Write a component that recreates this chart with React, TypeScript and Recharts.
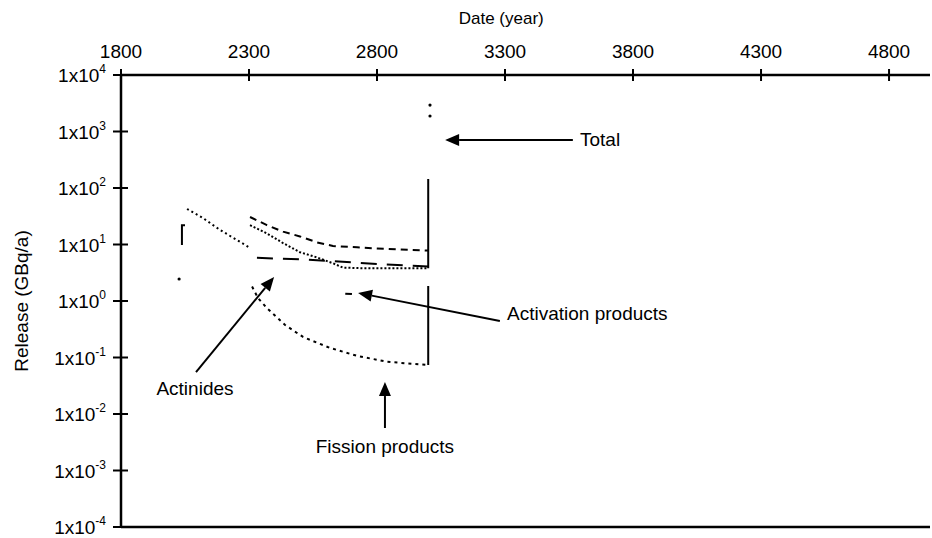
import React from 'react';
import { ComposedChart, Line, XAxis, YAxis, ReferenceLine, ReferenceDot } from 'recharts';

const FONT = '"Liberation Sans", Arial, sans-serif';

const xTicks = [1800, 2300, 2800, 3300, 3800, 4300, 4800];
const yTicks = [1e-4, 1e-3, 1e-2, 1e-1, 1e0, 1e1, 1e2, 1e3, 1e4];
const yExponents = ['-4', '-3', '-2', '-1', '0', '1', '2', '3', '4'];

// Early dotted curve
const earlyYears = [2058, 2120, 2187, 2253, 2304];
const earlyValues = [42.5, 29.4, 18.1, 12.0, 8.7];

// Actinides (long dashes)
const actinideYears = [2331, 2430, 2527, 2650, 2812, 3000];
const actinideValues = [5.8, 5.6, 5.4, 5.0, 4.5, 4.1];

// Upper dashed curve
const upperYears = [2304, 2370, 2433, 2499, 2566, 2628, 2722, 2800, 2878, 2980, 3000];
const upperValues = [30.7, 22, 16.9, 13.9, 10.9, 9.4, 8.9, 8.5, 8.2, 7.9, 7.8];

// Lower dotted curve
const lowerYears = [2304, 2370, 2433, 2499, 2566, 2628, 2667, 2750, 2850, 3000];
const lowerValues = [22, 15.7, 10.6, 7.3, 5.9, 4.65, 3.9, 3.8, 3.8, 3.8];

// Fission products
const fissionYears = [2312, 2335, 2370, 2441, 2511, 2616, 2722, 2839, 2995];
const fissionValues = [1.8, 1.13, 0.75, 0.376, 0.231, 0.148, 0.107, 0.084, 0.074];

// Activation products fragment
const activationYears = [2676, 2702];
const activationValues = [1.35, 1.33];

// Vertical drop at year 3000
const dropYears = [3000, 3000, 3000, 3000, 3000];
const dropValues: (number | null)[] = [144, 3.8, null, 1.84, 0.074];

// Small bracket
const bracketYears = [2050, 2038, 2038];
const bracketValues = [22, 22, 9.8];

// Isolated points
const pointYears = [2027, 3007, 3007];
const pointValues = [2.45, 2940, 1880];

// Annotations
const annotationTexts = ['Total', 'Activation products', 'Fission products', 'Actinides'];
const arrowTailYears = [3565, 3280, 2831, 2093];
const arrowTailValues = [708, 0.443, 0.00565, 0.0553];
const arrowTipYears = [3066, 2726, 2831, 2398];
const arrowTipValues = [708, 1.39, 0.0368, 2.66];
const textYears = [3593, 3308, 2831, 2089];
const textValues = [708, 0.6, 0.0027, 0.0277];
const textAnchors = ['start', 'start', 'middle', 'middle'];

const zip = (xs: number[], ys: (number | null)[]) => xs.map((year, i) => ({ year, value: ys[i] }));

const XTick = (props: any) => {
  const { x, y, payload } = props;
  return (
    <g>
      <line x1={x} y1={y - 6} x2={x} y2={y + 6} stroke="#000" strokeWidth={2} />
      <text x={x} y={y - 24} textAnchor="middle" dominantBaseline="central" fontFamily={FONT} fontSize={19} fill="#000">
        {payload.value}
      </text>
    </g>
  );
};

const YTick = (props: any) => {
  const { x, y, payload } = props;
  const idx = yTicks.findIndex((t) => Math.abs(Math.log10(t) - Math.log10(payload.value)) < 1e-6);
  const exp = yExponents[idx] ?? '';
  return (
    <g>
      <line x1={x - 8} y1={y} x2={x + 7} y2={y} stroke="#000" strokeWidth={2} />
      <text x={x - 15} y={y + 7} textAnchor="end" fontFamily={FONT} fontSize={19} fill="#000">
        <tspan>1x10</tspan>
        <tspan fontSize={12} dy={-9}>{exp}</tspan>
      </text>
    </g>
  );
};

const arrowShape = (props: any) => {
  const { x1, y1, x2, y2 } = props;
  const dx = x2 - x1;
  const dy = y2 - y1;
  const len = Math.sqrt(dx * dx + dy * dy) || 1;
  const ux = dx / len;
  const uy = dy / len;
  const head = 14;
  const half = 6;
  const bx = x2 - ux * head;
  const by = y2 - uy * head;
  const pts = `${x2},${y2} ${bx - uy * half},${by + ux * half} ${bx + uy * half},${by - ux * half}`;
  return (
    <g>
      <line x1={x1} y1={y1} x2={bx} y2={by} stroke="#000" strokeWidth={2} />
      <polygon points={pts} fill="#000" />
    </g>
  );
};

const lineCommon = {
  type: 'linear' as const,
  dataKey: 'value',
  stroke: '#000',
  strokeWidth: 2,
  dot: false,
  activeDot: false,
  isAnimationActive: false,
  connectNulls: false,
};

export default function App() {
  return (
    <div style={{ position: 'absolute', left: 0, top: 0, background: '#fff' }}>
      <ComposedChart width={932} height={538} margin={{ top: 0, right: 2, bottom: 11, left: 0 }}>
        <XAxis
          dataKey="year"
          type="number"
          orientation="top"
          domain={[1800, 4960]}
          ticks={xTicks}
          height={75}
          allowDataOverflow
          tickSize={0}
          tickMargin={0}
          tickLine={false}
          axisLine={{ stroke: '#000', strokeWidth: 2.5 }}
          tick={<XTick />}
          label={{
            content: (p: any) => {
              const vb = p.viewBox;
              return (
                <text x={vb.x + vb.width * 0.47} y={18} textAnchor="middle" dominantBaseline="central" fontFamily={FONT} fontSize={17} fill="#000">
                  Date (year)
                </text>
              );
            },
          }}
        />
        <YAxis
          type="number"
          scale="log"
          domain={[1e-4, 1e4]}
          ticks={yTicks}
          width={121}
          allowDataOverflow
          tickSize={0}
          tickMargin={0}
          tickLine={false}
          axisLine={{ stroke: '#000', strokeWidth: 2.5 }}
          tick={<YTick />}
          label={{
            content: (p: any) => {
              const vb = p.viewBox;
              const cx = vb.x + 21;
              const cy = vb.y + vb.height / 2;
              return (
                <text x={cx} y={cy} transform={`rotate(-90, ${cx}, ${cy})`} textAnchor="middle" dominantBaseline="central" fontFamily={FONT} fontSize={19} fill="#000">
                  Release (GBq/a)
                </text>
              );
            },
          }}
        />
        <ReferenceLine y={1e-4} stroke="#000" strokeWidth={2.5} />

        <Line {...lineCommon} data={zip(earlyYears, earlyValues)} strokeDasharray="2 3" />
        <Line {...lineCommon} data={zip(actinideYears, actinideValues)} strokeDasharray="16 10" />
        <Line {...lineCommon} data={zip(upperYears, upperValues)} strokeDasharray="7 5" />
        <Line {...lineCommon} data={zip(lowerYears, lowerValues)} strokeDasharray="2 2" />
        <Line {...lineCommon} data={zip(fissionYears, fissionValues)} strokeDasharray="3 4" />
        <Line {...lineCommon} data={zip(activationYears, activationValues)} />
        <Line {...lineCommon} data={zip(dropYears, dropValues)} />
        <Line {...lineCommon} data={zip(bracketYears, bracketValues)} />
        <Line
          {...lineCommon}
          data={zip(pointYears, pointValues)}
          stroke="none"
          dot={{ r: 1.6, fill: '#000', stroke: 'none' }}
        />

        {annotationTexts.map((t, i) => (
          <ReferenceLine
            key={'a' + i}
            segment={[
              { x: arrowTailYears[i], y: arrowTailValues[i] },
              { x: arrowTipYears[i], y: arrowTipValues[i] },
            ]}
            shape={arrowShape}
          />
        ))}
        {annotationTexts.map((t, i) => (
          <ReferenceDot
            key={'t' + i}
            x={textYears[i]}
            y={textValues[i]}
            r={0}
            shape={(p: any) => (
              <text x={p.cx} y={p.cy} textAnchor={textAnchors[i] as any} dominantBaseline="central" fontFamily={FONT} fontSize={19} fill="#000">
                {t}
              </text>
            )}
          />
        ))}
      </ComposedChart>
    </div>
  );
}
